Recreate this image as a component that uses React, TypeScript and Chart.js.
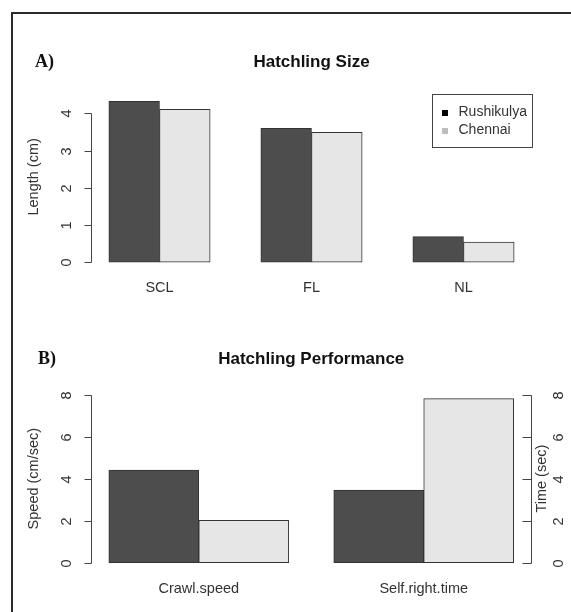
import React, { useEffect, useRef } from 'react';
import { Chart, registerables } from 'chart.js';

Chart.register(...registerables);

// ---------- data ----------
const seriesNames = ['Rushikulya', 'Chennai'];
const seriesColors = ['#4D4D4D', '#E6E6E6'];
const legendMarkColors = ['#000000', '#BEBEBE'];

const sizeCategories = ['SCL', 'FL', 'NL'];
const sizeRushikulya = [4.32, 3.6, 0.69];
const sizeChennai = [4.11, 3.49, 0.54];
const sizeTicks = [0, 1, 2, 3, 4];

const perfCategories = ['Crawl.speed', 'Self.right.time'];
const perfRushikulya = [4.42, 3.47];
const perfChennai = [2.02, 7.83];
const perfTicks = [0, 2, 4, 6, 8];

// ---------- style ----------
const SANS = '"Liberation Sans", Arial, sans-serif';
const SERIF = '"Liberation Serif", "Times New Roman", serif';
const AXIS = '#444444';
const TEXT = '#333333';
const TICK_LEN = 7;
const X_PAD_FRAC = 0.044;
const Y_PAD_FRAC = 0.04;

type PanelProps = {
  top: number;
  height: number;
  letter: string;
  letterX: number;
  title: string;
  categories: string[];
  series: number[][];
  ticks: number[];
  groupSpace: number;
  yTitle: string;
  yTitleShift: number;
  rightTitle?: string;
  showLegend: boolean;
  padding: { left: number; right: number; top: number; bottom: number };
};

function Panel(props: PanelProps) {
  const ref = useRef<HTMLCanvasElement | null>(null);

  useEffect(() => {
    const canvas = ref.current;
    if (!canvas) return;
    const {
      letter, letterX, title, categories, series, ticks, groupSpace,
      yTitle, yTitleShift, rightTitle, showLegend, padding,
    } = props;
    const nSeries = series.length;
    const barX = (g: number, i: number) => g * (nSeries + groupSpace) + groupSpace + i + 0.5;
    const groupCenter = (g: number) => g * (nSeries + groupSpace) + groupSpace + nSeries / 2;
    const xLo = groupSpace;
    const xHi = categories.length * (nSeries + groupSpace);
    const xPad = X_PAD_FRAC * (xHi - xLo);
    const yMax = Math.max(0, ...series.flat());
    const yPad = Y_PAD_FRAC * yMax;

    const rStyle = {
      id: 'rStyle',
      afterDraw(chart: any) {
        const { ctx, chartArea: a } = chart;
        const xs = chart.scales.x;
        const ys = chart.scales.y;
        const L = Math.round(a.left) + 0.5;
        const R = Math.round(a.right) - 0.5;
        const tp = ticks.map((v) => Math.round(ys.getPixelForValue(v)) + 0.5);
        const last = tp.length - 1;
        ctx.save();
        ctx.strokeStyle = AXIS;
        ctx.lineWidth = 1;
        ctx.beginPath();
        ctx.moveTo(L, tp[0]);
        ctx.lineTo(L, tp[last]);
        tp.forEach((p) => { ctx.moveTo(L, p); ctx.lineTo(L - TICK_LEN, p); });
        if (rightTitle) {
          ctx.moveTo(R, tp[0]);
          ctx.lineTo(R, tp[last]);
          tp.forEach((p) => { ctx.moveTo(R, p); ctx.lineTo(R - TICK_LEN - 2, p); });
        }
        ctx.stroke();

        const rot = (text: string, cx: number, cy: number) => {
          ctx.save();
          ctx.translate(cx, cy);
          ctx.rotate(-Math.PI / 2);
          ctx.fillText(text, 0, 0);
          ctx.restore();
        };
        ctx.fillStyle = TEXT;
        ctx.font = `14.5px ${SANS}`;
        ctx.textAlign = 'center';
        ctx.textBaseline = 'middle';
        ticks.forEach((v, k) => rot(String(v), a.left - 24, tp[k]));
        const midY = (a.top + a.bottom) / 2 + yTitleShift;
        rot(yTitle, a.left - 57, midY);
        if (rightTitle) {
          ticks.forEach((v, k) => rot(String(v), a.right + 27, tp[k]));
          rot(rightTitle, a.right + 10.5, midY);
        }
        categories.forEach((c, g) => {
          ctx.fillText(c, xs.getPixelForValue(groupCenter(g)), a.bottom + 19.5);
        });

        ctx.fillStyle = '#111111';
        ctx.font = `bold 17px ${SANS}`;
        ctx.fillText(title, (a.left + a.right) / 2, a.top - 33);
        ctx.font = `bold 18px ${SERIF}`;
        ctx.textAlign = 'left';
        ctx.fillText(letter, letterX, a.top - 33);

        if (showLegend) {
          const bw = 100;
          const bh = 53;
          const bx = Math.round(a.right) - bw + 0.5;
          const by = Math.round(a.top) - 1 + 0.5;
          ctx.strokeStyle = AXIS;
          ctx.strokeRect(bx, by, bw, bh);
          ctx.font = `14px ${SANS}`;
          seriesNames.forEach((n, i) => {
            const cy = by + 18 + i * 18;
            ctx.fillStyle = legendMarkColors[i];
            ctx.fillRect(Math.round(bx + 9), Math.round(cy - 3), 6, 6);
            ctx.fillStyle = TEXT;
            ctx.fillText(n, bx + 26, cy);
          });
        }
        ctx.restore();
      },
    };

    const chart = new Chart(canvas, {
      type: 'bar',
      data: {
        datasets: series.map((vals, i) => ({
          label: seriesNames[i],
          data: categories.map((_, g) => ({ x: barX(g, i), y: vals[g] })),
          backgroundColor: seriesColors[i],
          borderColor: '#333333',
          borderWidth: 1,
          borderSkipped: false,
          grouped: false,
          barPercentage: 1,
          categoryPercentage: 1,
        })),
      },
      options: {
        animation: false,
        responsive: false,
        devicePixelRatio: 1,
        events: [],
        layout: { padding },
        plugins: {
          legend: { display: false },
          title: { display: false },
          tooltip: { enabled: false },
        },
        scales: {
          x: {
            type: 'linear',
            display: false,
            offset: false,
            grid: { offset: false },
            bounds: 'data',
            min: xLo - xPad,
            max: xHi + xPad,
            afterBuildTicks: (s: any) => {
              s.ticks = categories.map((_, g) => ({ value: groupCenter(g) }));
            },
          },
          y: {
            type: 'linear',
            display: false,
            bounds: 'data',
            min: -yPad,
            max: yMax + yPad,
            afterBuildTicks: (s: any) => {
              s.ticks = ticks.map((v) => ({ value: v }));
            },
          },
        },
      } as any,
      plugins: [rStyle],
    });
    return () => chart.destroy();
  }, []);

  return (
    <canvas
      ref={ref}
      width={571}
      height={props.height}
      style={{ position: 'absolute', left: 0, top: props.top, width: 571, height: props.height }}
    />
  );
}

export default function App() {
  return (
    <div style={{ position: 'absolute', left: 0, top: 0, width: 571, height: 612, overflow: 'hidden', background: '#ffffff' }}>
      <div style={{ position: 'absolute', left: 11, top: 12, width: 700, height: 800, border: '2px solid #2a2a2a' }} />
      <Panel
        top={0}
        height={306}
        letter="A)"
        letterX={35}
        title="Hatchling Size"
        categories={sizeCategories}
        series={[sizeRushikulya, sizeChennai]}
        ticks={sizeTicks}
        groupSpace={1}
        yTitle="Length (cm)"
        yTitleShift={-5}
        showLegend={true}
        padding={{ left: 91, right: 39, top: 95, bottom: 37.3 }}
      />
      <Panel
        top={306}
        height={306}
        letter="B)"
        letterX={38}
        title="Hatchling Performance"
        categories={perfCategories}
        series={[perfRushikulya, perfChennai]}
        ticks={perfTicks}
        groupSpace={0.5}
        yTitle="Speed (cm/sec)"
        yTitleShift={-2}
        rightTitle="Time (sec)"
        showLegend={false}
        padding={{ left: 91, right: 39.5, top: 86, bottom: 42.7 }}
      />
    </div>
  );
}
